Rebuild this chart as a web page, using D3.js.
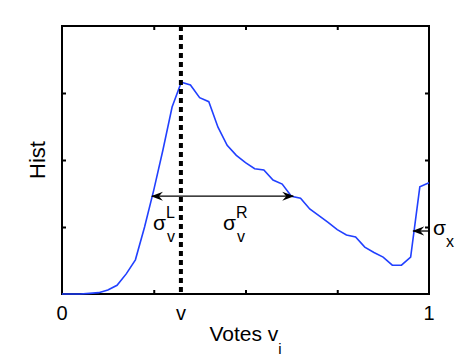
<!DOCTYPE html>
<html>
<head>
<meta charset="utf-8">
<script src="https://cdn.jsdelivr.net/npm/d3@7"></script>
<style>
  body { margin: 0; background: #fff; }
  text { font-family: "Liberation Sans", Arial, sans-serif; fill: #000; }
</style>
</head>
<body>
<script>
// histogram of votes
let voteBins = [0, 0.025, 0.05, 0.075, 0.1, 0.125, 0.15, 0.175, 0.2, 0.225, 0.25, 0.275, 0.3, 0.325,
  0.35, 0.375, 0.4, 0.425, 0.45, 0.475, 0.5, 0.525, 0.55, 0.575, 0.6, 0.625, 0.65, 0.675, 0.7,
  0.725, 0.75, 0.775, 0.8, 0.825, 0.85, 0.875, 0.9, 0.925, 0.95, 0.975, 1.0]
let histValues = [0, 0, 0, 0.01, 0.02, 0.06, 0.13, 0.3, 0.51, 1.0, 1.55, 2.15, 2.79, 3.16,
  3.12, 2.93, 2.87, 2.49, 2.22, 2.07, 1.96, 1.87, 1.85, 1.70, 1.64, 1.46, 1.43, 1.27, 1.17,
  1.07, 0.96, 0.88, 0.85, 0.70, 0.62, 0.55, 0.43, 0.43, 0.55, 1.60, 1.66]

let xTickValues = [0.25, 0.5, 0.75]
let yTickValues = [1, 2, 3]
let xTickLabels = [[0, "0"], [0.324, "v"], [1, "1"]]

let vMark = 0.324
let widthLevel = 1.46
let sigmaL = 0.245
let sigmaR = 0.63
let sigmaXLevel = 0.94
let sigmaXEnd = 0.957

let svgWidth = 474
let svgHeight = 357
let margin = { top: 26, right: 45, bottom: 63, left: 62 }
let width = svgWidth - margin.left - margin.right
let height = svgHeight - margin.top - margin.bottom

let svg = d3.select("body").append("svg")
  .attr("width", svgWidth)
  .attr("height", svgHeight)

let defs = svg.append("defs")
defs.append("marker")
  .attr("id", "head")
  .attr("viewBox", "0 -5 12 10")
  .attr("refX", 11).attr("refY", 0)
  .attr("markerWidth", 12).attr("markerHeight", 10)
  .attr("markerUnits", "userSpaceOnUse")
  .attr("orient", "auto-start-reverse")
  .append("path")
  .attr("d", "M0,-4.5L12,0L0,4.5L4,0Z")
  .attr("fill", "#000")

let chart = svg.append("g")
  .attr("transform", `translate(${margin.left}, ${margin.top})`)

let x = d3.scaleLinear().domain([0, 1]).range([0, width])
let y = d3.scaleLinear().domain([0, 4]).range([height, 0])

// axes, ticks pointing inward on all four sides
function styleAxis(g) {
  g.select(".domain").remove()
  g.selectAll(".tick line").attr("stroke", "#000").attr("stroke-width", 2)
  g.selectAll(".tick text").remove()
}
chart.append("g").attr("transform", `translate(0, ${height})`)
  .call(d3.axisBottom(x).tickValues(xTickValues).tickSize(-4)).call(styleAxis)
chart.append("g")
  .call(d3.axisTop(x).tickValues(xTickValues).tickSize(-4)).call(styleAxis)
chart.append("g")
  .call(d3.axisLeft(y).tickValues(yTickValues).tickSize(-4)).call(styleAxis)
chart.append("g").attr("transform", `translate(${width}, 0)`)
  .call(d3.axisRight(y).tickValues(yTickValues).tickSize(-4)).call(styleAxis)

chart.append("rect")
  .attr("x", 0).attr("y", 0)
  .attr("width", width).attr("height", height)
  .attr("fill", "none").attr("stroke", "#000").attr("stroke-width", 2)

// tick labels
chart.selectAll(".xlab").data(xTickLabels).enter().append("text")
  .attr("x", d => x(d[0]))
  .attr("y", height + 26)
  .attr("text-anchor", "middle")
  .attr("font-size", 20)
  .text(d => d[1])

// histogram curve
let line = d3.line().x((d, i) => x(voteBins[i])).y(d => y(d))
chart.append("path")
  .datum(histValues)
  .attr("d", line)
  .attr("fill", "none")
  .attr("stroke", "#2140ff")
  .attr("stroke-width", 1.6)

// dashed line at v
chart.append("line")
  .attr("x1", x(vMark)).attr("x2", x(vMark))
  .attr("y1", 0).attr("y2", height)
  .attr("stroke", "#000").attr("stroke-width", 4)
  .attr("stroke-dasharray", "5,4")

// width arrows
chart.append("line")
  .attr("x1", x(sigmaL)).attr("x2", x(sigmaR))
  .attr("y1", y(widthLevel)).attr("y2", y(widthLevel))
  .attr("stroke", "#000").attr("stroke-width", 1.3)
  .attr("marker-start", "url(#head)")
  .attr("marker-end", "url(#head)")

chart.append("line")
  .attr("x1", x(1)).attr("x2", x(sigmaXEnd))
  .attr("y1", y(sigmaXLevel)).attr("y2", y(sigmaXLevel))
  .attr("stroke", "#000").attr("stroke-width", 1.3)
  .attr("marker-end", "url(#head)")

// sigma labels
function sigma(px, py, sup, sub) {
  let t = chart.append("text").attr("x", px).attr("y", py).attr("font-size", 21)
  t.append("tspan").text("σ")
  if (sup) {
    t.append("tspan").attr("font-size", 16).attr("dy", -12).text(sup)
    t.append("tspan").attr("font-size", 16).attr("x", px + 14).attr("dy", 24).text(sub)
  } else {
    t.append("tspan").attr("font-size", 16).attr("dy", 12).text(sub)
  }
}
sigma(x(vMark) - 28, 204, "L", "v")
sigma(x(vMark) + 42, 204, "R", "v")
sigma(width + 4, 209, null, "x")

// axis labels
let xl = chart.append("text")
  .attr("x", x(0.5))
  .attr("y", height + 47)
  .attr("text-anchor", "middle")
  .attr("font-size", 21)
xl.append("tspan").text("Votes v")
xl.append("tspan").attr("font-size", 15).attr("dy", 13).text("i")

chart.append("text")
  .attr("transform", "rotate(-90)")
  .attr("x", -height / 2)
  .attr("y", -17)
  .attr("text-anchor", "middle")
  .attr("font-size", 22)
  .text("Hist")
</script>
</body>
</html>
